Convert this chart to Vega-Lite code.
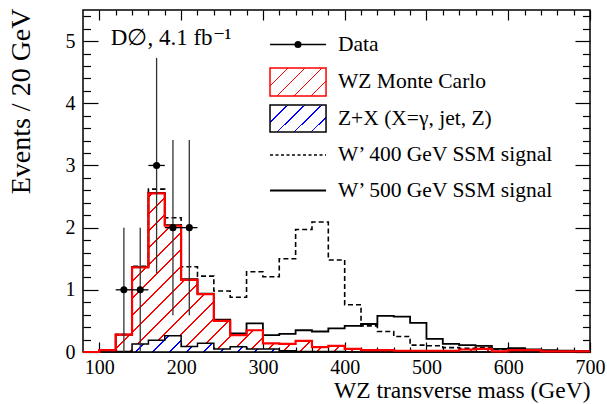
{
  "$schema": "https://vega.github.io/schema/vega-lite/v6.json",
  "width": 507,
  "height": 342,
  "autosize": "none",
  "padding": {"left": 83, "top": 10, "right": 17, "bottom": 52},
  "background": "white",
  "config": {
    "view": {"stroke": "black", "strokeWidth": 1.5},
    "axis": {"grid": false, "domain": false, "tickColor": "black", "tickWidth": 1.2, "labelFont": "Liberation Serif", "labelFontSize": 20, "labelColor": "black", "titleFont": "Liberation Serif", "titleFontSize": 24, "titleFontWeight": "normal", "titleColor": "black", "zindex": 1}
  },
  "resolve": {"axis": {"x": "independent", "y": "independent"}},
  "datasets": {
    "hist": [
      {"m": 80, "wz": 0, "zx": 0, "w4": 0, "w5": 0},
      {"m": 100, "wz": 0.03, "zx": 0, "w4": 0.03, "w5": 0.03},
      {"m": 120, "wz": 0.28, "zx": 0.01, "w4": 0.28, "w5": 0.28},
      {"m": 140, "wz": 1.36, "zx": 0.13, "w4": 1.38, "w5": 1.37},
      {"m": 160, "wz": 2.55, "zx": 0.19, "w4": 2.62, "w5": 2.56},
      {"m": 180, "wz": 2.03, "zx": 0.26, "w4": 2.16, "w5": 2.04},
      {"m": 200, "wz": 1.16, "zx": 0.09, "w4": 1.37, "w5": 1.17},
      {"m": 220, "wz": 0.93, "zx": 0.14, "w4": 1.22, "w5": 0.94},
      {"m": 240, "wz": 0.5, "zx": 0.05, "w4": 0.98, "w5": 0.52},
      {"m": 260, "wz": 0.27, "zx": 0.085, "w4": 0.88, "w5": 0.3},
      {"m": 280, "wz": 0.35, "zx": 0.05, "w4": 1.29, "w5": 0.46},
      {"m": 300, "wz": 0.14, "zx": 0.05, "w4": 1.21, "w5": 0.27},
      {"m": 320, "wz": 0.13, "zx": 0.02, "w4": 1.5, "w5": 0.29},
      {"m": 340, "wz": 0.18, "zx": 0.01, "w4": 1.97, "w5": 0.35},
      {"m": 360, "wz": 0.08, "zx": 0.01, "w4": 2.09, "w5": 0.33},
      {"m": 380, "wz": 0.1, "zx": 0.01, "w4": 1.48, "w5": 0.38},
      {"m": 400, "wz": 0.05, "zx": 0, "w4": 0.76, "w5": 0.42},
      {"m": 420, "wz": 0.03, "zx": 0, "w4": 0.42, "w5": 0.45},
      {"m": 440, "wz": 0.03, "zx": 0, "w4": 0.33, "w5": 0.58},
      {"m": 460, "wz": 0.02, "zx": 0, "w4": 0.25, "w5": 0.57},
      {"m": 480, "wz": 0.02, "zx": 0, "w4": 0.11, "w5": 0.47},
      {"m": 500, "wz": 0.02, "zx": 0, "w4": 0.1, "w5": 0.21},
      {"m": 520, "wz": 0.02, "zx": 0, "w4": 0.07, "w5": 0.13},
      {"m": 540, "wz": 0.04, "zx": 0, "w4": 0.06, "w5": 0.11},
      {"m": 560, "wz": 0.05, "zx": 0, "w4": 0.07, "w5": 0.1},
      {"m": 580, "wz": 0.01, "zx": 0, "w4": 0.04, "w5": 0.05},
      {"m": 600, "wz": 0.03, "zx": 0, "w4": 0.03, "w5": 0.06},
      {"m": 620, "wz": 0.03, "zx": 0, "w4": 0.03, "w5": 0.04},
      {"m": 640, "wz": 0.01, "zx": 0, "w4": 0.01, "w5": 0.03},
      {"m": 660, "wz": 0.01, "zx": 0, "w4": 0.01, "w5": 0.02},
      {"m": 680, "wz": 0.01, "zx": 0, "w4": 0.01, "w5": 0.015},
      {"m": 700, "wz": 0.01, "zx": 0, "w4": 0.01, "w5": 0.015}
    ],
    "pts": [
      {"m": 130, "n": 1, "lo": 0, "hi": 2, "m0": 120, "m1": 140},
      {"m": 150, "n": 1, "lo": 0, "hi": 2, "m0": 140, "m1": 160},
      {"m": 170, "n": 3, "lo": 1.27, "hi": 4.73, "m0": 160, "m1": 180},
      {"m": 190, "n": 2, "lo": 0.59, "hi": 3.41, "m0": 180, "m1": 200},
      {"m": 210, "n": 2, "lo": 0.59, "hi": 3.41, "m0": 200, "m1": 220}
    ],
    "leg": [
      {"s": "Data"},
      {"s": "WZ Monte Carlo"},
      {"s": "Z+X (X=γ, jet, Z)"},
      {"s": "W’ 400 GeV SSM signal"},
      {"s": "W’ 500 GeV SSM signal"}
    ],
    "note": [{"t": "D∅, 4.1 fb⁻¹"}]
  },
  "layer": [
    {
      "data": {"name": "hist"},
      "mark": {"type": "area", "interpolate": "step-after", "stroke": null,
        "fill": {"gradient": "linear", "x1": 0, "y1": 0, "x2": 1.2218, "y2": 0.3821, "stops": [
          {"offset": 0, "color": "red"}, {"offset": 0.0025, "color": "red"}, {"offset": 0.0025, "color": "transparent"}, {"offset": 0.025, "color": "transparent"},
          {"offset": 0.025, "color": "red"}, {"offset": 0.0275, "color": "red"}, {"offset": 0.0275, "color": "transparent"}, {"offset": 0.05, "color": "transparent"},
          {"offset": 0.05, "color": "red"}, {"offset": 0.0525, "color": "red"}, {"offset": 0.0525, "color": "transparent"}, {"offset": 0.075, "color": "transparent"},
          {"offset": 0.075, "color": "red"}, {"offset": 0.0775, "color": "red"}, {"offset": 0.0775, "color": "transparent"}, {"offset": 0.1, "color": "transparent"},
          {"offset": 0.1, "color": "red"}, {"offset": 0.1025, "color": "red"}, {"offset": 0.1025, "color": "transparent"}, {"offset": 0.125, "color": "transparent"},
          {"offset": 0.125, "color": "red"}, {"offset": 0.1275, "color": "red"}, {"offset": 0.1275, "color": "transparent"}, {"offset": 0.15, "color": "transparent"},
          {"offset": 0.15, "color": "red"}, {"offset": 0.1525, "color": "red"}, {"offset": 0.1525, "color": "transparent"}, {"offset": 0.175, "color": "transparent"},
          {"offset": 0.175, "color": "red"}, {"offset": 0.1775, "color": "red"}, {"offset": 0.1775, "color": "transparent"}, {"offset": 0.2, "color": "transparent"},
          {"offset": 0.2, "color": "red"}, {"offset": 0.2025, "color": "red"}, {"offset": 0.2025, "color": "transparent"}, {"offset": 0.225, "color": "transparent"},
          {"offset": 0.225, "color": "red"}, {"offset": 0.2275, "color": "red"}, {"offset": 0.2275, "color": "transparent"}, {"offset": 0.25, "color": "transparent"},
          {"offset": 0.25, "color": "red"}, {"offset": 0.2525, "color": "red"}, {"offset": 0.2525, "color": "transparent"}, {"offset": 0.275, "color": "transparent"},
          {"offset": 0.275, "color": "red"}, {"offset": 0.2775, "color": "red"}, {"offset": 0.2775, "color": "transparent"}, {"offset": 0.3, "color": "transparent"},
          {"offset": 0.3, "color": "red"}, {"offset": 0.3025, "color": "red"}, {"offset": 0.3025, "color": "transparent"}, {"offset": 0.325, "color": "transparent"},
          {"offset": 0.325, "color": "red"}, {"offset": 0.3275, "color": "red"}, {"offset": 0.3275, "color": "transparent"}, {"offset": 0.35, "color": "transparent"},
          {"offset": 0.35, "color": "red"}, {"offset": 0.3525, "color": "red"}, {"offset": 0.3525, "color": "transparent"}, {"offset": 0.375, "color": "transparent"},
          {"offset": 0.375, "color": "red"}, {"offset": 0.3775, "color": "red"}, {"offset": 0.3775, "color": "transparent"}, {"offset": 0.4, "color": "transparent"},
          {"offset": 0.4, "color": "red"}, {"offset": 0.4025, "color": "red"}, {"offset": 0.4025, "color": "transparent"}, {"offset": 0.425, "color": "transparent"},
          {"offset": 0.425, "color": "red"}, {"offset": 0.4275, "color": "red"}, {"offset": 0.4275, "color": "transparent"}, {"offset": 0.45, "color": "transparent"},
          {"offset": 0.45, "color": "red"}, {"offset": 0.4525, "color": "red"}, {"offset": 0.4525, "color": "transparent"}, {"offset": 0.475, "color": "transparent"},
          {"offset": 0.475, "color": "red"}, {"offset": 0.4775, "color": "red"}, {"offset": 0.4775, "color": "transparent"}, {"offset": 0.5, "color": "transparent"},
          {"offset": 0.5, "color": "red"}, {"offset": 0.5025, "color": "red"}, {"offset": 0.5025, "color": "transparent"}, {"offset": 0.525, "color": "transparent"},
          {"offset": 0.525, "color": "red"}, {"offset": 0.5275, "color": "red"}, {"offset": 0.5275, "color": "transparent"}, {"offset": 0.55, "color": "transparent"},
          {"offset": 0.55, "color": "red"}, {"offset": 0.5525, "color": "red"}, {"offset": 0.5525, "color": "transparent"}, {"offset": 0.575, "color": "transparent"},
          {"offset": 0.575, "color": "red"}, {"offset": 0.5775, "color": "red"}, {"offset": 0.5775, "color": "transparent"}, {"offset": 0.6, "color": "transparent"},
          {"offset": 0.6, "color": "red"}, {"offset": 0.6025, "color": "red"}, {"offset": 0.6025, "color": "transparent"}, {"offset": 0.625, "color": "transparent"},
          {"offset": 0.625, "color": "red"}, {"offset": 0.6275, "color": "red"}, {"offset": 0.6275, "color": "transparent"}, {"offset": 0.65, "color": "transparent"},
          {"offset": 0.65, "color": "red"}, {"offset": 0.6525, "color": "red"}, {"offset": 0.6525, "color": "transparent"}, {"offset": 0.675, "color": "transparent"},
          {"offset": 0.675, "color": "red"}, {"offset": 0.6775, "color": "red"}, {"offset": 0.6775, "color": "transparent"}, {"offset": 0.7, "color": "transparent"},
          {"offset": 0.7, "color": "red"}, {"offset": 0.7025, "color": "red"}, {"offset": 0.7025, "color": "transparent"}, {"offset": 0.725, "color": "transparent"},
          {"offset": 0.725, "color": "red"}, {"offset": 0.7275, "color": "red"}, {"offset": 0.7275, "color": "transparent"}, {"offset": 0.75, "color": "transparent"},
          {"offset": 0.75, "color": "red"}, {"offset": 0.7525, "color": "red"}, {"offset": 0.7525, "color": "transparent"}, {"offset": 0.775, "color": "transparent"},
          {"offset": 0.775, "color": "red"}, {"offset": 0.7775, "color": "red"}, {"offset": 0.7775, "color": "transparent"}, {"offset": 0.8, "color": "transparent"},
          {"offset": 0.8, "color": "red"}, {"offset": 0.8025, "color": "red"}, {"offset": 0.8025, "color": "transparent"}, {"offset": 0.825, "color": "transparent"},
          {"offset": 0.825, "color": "red"}, {"offset": 0.8275, "color": "red"}, {"offset": 0.8275, "color": "transparent"}, {"offset": 0.85, "color": "transparent"},
          {"offset": 0.85, "color": "red"}, {"offset": 0.8525, "color": "red"}, {"offset": 0.8525, "color": "transparent"}, {"offset": 0.875, "color": "transparent"},
          {"offset": 0.875, "color": "red"}, {"offset": 0.8775, "color": "red"}, {"offset": 0.8775, "color": "transparent"}, {"offset": 0.9, "color": "transparent"},
          {"offset": 0.9, "color": "red"}, {"offset": 0.9025, "color": "red"}, {"offset": 0.9025, "color": "transparent"}, {"offset": 0.925, "color": "transparent"},
          {"offset": 0.925, "color": "red"}, {"offset": 0.9275, "color": "red"}, {"offset": 0.9275, "color": "transparent"}, {"offset": 0.95, "color": "transparent"},
          {"offset": 0.95, "color": "red"}, {"offset": 0.9525, "color": "red"}, {"offset": 0.9525, "color": "transparent"}, {"offset": 0.975, "color": "transparent"},
          {"offset": 0.975, "color": "red"}, {"offset": 0.9775, "color": "red"}, {"offset": 0.9775, "color": "transparent"}, {"offset": 1, "color": "transparent"}
        ]}},
      "encoding": {
        "x": {"field": "m", "type": "quantitative", "scale": {"domain": [80, 700], "nice": false, "zero": false},
          "axis": {"orient": "bottom", "values": [100, 200, 300, 400, 500, 600, 700], "format": "d", "ticks": false, "labelPadding": 5, "labelFlush": false, "labelOverlap": false,
            "title": "WZ transverse mass (GeV)", "titleFontSize": 23.5, "titleAnchor": "end", "titleAlign": "right", "titleBaseline": "alphabetic", "titleX": 507, "titleY": 45}},
        "y": {"field": "wz", "type": "quantitative", "scale": {"domain": [0, 5.5], "nice": false},
          "axis": {"orient": "left", "values": [0, 1, 2, 3, 4, 5], "format": "d", "ticks": false, "labelPadding": 8, "labelFlush": false, "labelOverlap": false,
            "title": "Events / 20 GeV", "titleFontSize": 28, "titleAnchor": "end", "titleAlign": "right", "titleAngle": -90, "titleBaseline": "alphabetic", "titleX": -54, "titleY": -2}}
      }
    },
    {
      "data": {"name": "hist"},
      "mark": {"type": "area", "interpolate": "step-after", "stroke": "black", "strokeWidth": 1.5,
        "fill": {"gradient": "linear", "x1": 0, "y1": 0, "x2": 1.3399, "y2": 0.04273, "stops": [
          {"offset": 0, "color": "blue"}, {"offset": 0.0025, "color": "blue"}, {"offset": 0.0025, "color": "white"}, {"offset": 0.025, "color": "white"},
          {"offset": 0.025, "color": "blue"}, {"offset": 0.0275, "color": "blue"}, {"offset": 0.0275, "color": "white"}, {"offset": 0.05, "color": "white"},
          {"offset": 0.05, "color": "blue"}, {"offset": 0.0525, "color": "blue"}, {"offset": 0.0525, "color": "white"}, {"offset": 0.075, "color": "white"},
          {"offset": 0.075, "color": "blue"}, {"offset": 0.0775, "color": "blue"}, {"offset": 0.0775, "color": "white"}, {"offset": 0.1, "color": "white"},
          {"offset": 0.1, "color": "blue"}, {"offset": 0.1025, "color": "blue"}, {"offset": 0.1025, "color": "white"}, {"offset": 0.125, "color": "white"},
          {"offset": 0.125, "color": "blue"}, {"offset": 0.1275, "color": "blue"}, {"offset": 0.1275, "color": "white"}, {"offset": 0.15, "color": "white"},
          {"offset": 0.15, "color": "blue"}, {"offset": 0.1525, "color": "blue"}, {"offset": 0.1525, "color": "white"}, {"offset": 0.175, "color": "white"},
          {"offset": 0.175, "color": "blue"}, {"offset": 0.1775, "color": "blue"}, {"offset": 0.1775, "color": "white"}, {"offset": 0.2, "color": "white"},
          {"offset": 0.2, "color": "blue"}, {"offset": 0.2025, "color": "blue"}, {"offset": 0.2025, "color": "white"}, {"offset": 0.225, "color": "white"},
          {"offset": 0.225, "color": "blue"}, {"offset": 0.2275, "color": "blue"}, {"offset": 0.2275, "color": "white"}, {"offset": 0.25, "color": "white"},
          {"offset": 0.25, "color": "blue"}, {"offset": 0.2525, "color": "blue"}, {"offset": 0.2525, "color": "white"}, {"offset": 0.275, "color": "white"},
          {"offset": 0.275, "color": "blue"}, {"offset": 0.2775, "color": "blue"}, {"offset": 0.2775, "color": "white"}, {"offset": 0.3, "color": "white"},
          {"offset": 0.3, "color": "blue"}, {"offset": 0.3025, "color": "blue"}, {"offset": 0.3025, "color": "white"}, {"offset": 0.325, "color": "white"},
          {"offset": 0.325, "color": "blue"}, {"offset": 0.3275, "color": "blue"}, {"offset": 0.3275, "color": "white"}, {"offset": 0.35, "color": "white"},
          {"offset": 0.35, "color": "blue"}, {"offset": 0.3525, "color": "blue"}, {"offset": 0.3525, "color": "white"}, {"offset": 0.375, "color": "white"},
          {"offset": 0.375, "color": "blue"}, {"offset": 0.3775, "color": "blue"}, {"offset": 0.3775, "color": "white"}, {"offset": 0.4, "color": "white"},
          {"offset": 0.4, "color": "blue"}, {"offset": 0.4025, "color": "blue"}, {"offset": 0.4025, "color": "white"}, {"offset": 0.425, "color": "white"}
        ]}},
      "encoding": {
        "x": {"field": "m", "type": "quantitative", "scale": {"domain": [80, 700], "nice": false, "zero": false},
          "axis": {"orient": "bottom", "values": [100, 200, 300, 400, 500, 600, 700], "labels": false, "title": null, "tickSize": -10}},
        "y": {"field": "zx", "type": "quantitative", "scale": {"domain": [0, 5.5], "nice": false},
          "axis": {"orient": "left", "values": [0, 1, 2, 3, 4, 5], "labels": false, "title": null, "tickSize": -15}}
      }
    },
    {
      "data": {"name": "hist"},
      "mark": {"type": "line", "interpolate": "step-after", "color": "black", "strokeWidth": 1.6, "strokeDash": [5, 3]},
      "encoding": {
        "x": {"field": "m", "type": "quantitative", "scale": {"domain": [80, 700], "nice": false, "zero": false},
          "axis": {"orient": "bottom", "values": [120,140,160,180,220,240,260,280,320,340,360,380,420,440,460,480,520,540,560,580,620,640,660,680], "labels": false, "title": null, "tickSize": -5}},
        "y": {"field": "w4", "type": "quantitative", "scale": {"domain": [0, 5.5], "nice": false},
          "axis": {"orient": "left", "values": [0.2,0.4,0.6,0.8,1.2,1.4,1.6,1.8,2.2,2.4,2.6,2.8,3.2,3.4,3.6,3.8,4.2,4.4,4.6,4.8,5.2,5.4], "labels": false, "title": null, "tickSize": -7.5}}
      }
    },
    {
      "data": {"name": "hist"},
      "mark": {"type": "line", "interpolate": "step-after", "color": "black", "strokeWidth": 1.8},
      "encoding": {
        "x": {"field": "m", "type": "quantitative", "scale": {"domain": [80, 700], "nice": false, "zero": false},
          "axis": {"orient": "top", "values": [100, 200, 300, 400, 500, 600, 700], "labels": false, "title": null, "tickSize": -10}},
        "y": {"field": "w5", "type": "quantitative", "scale": {"domain": [0, 5.5], "nice": false},
          "axis": {"orient": "right", "values": [0, 1, 2, 3, 4, 5], "labels": false, "title": null, "tickSize": -15}}
      }
    },
    {
      "data": {"name": "hist"},
      "mark": {"type": "line", "interpolate": "step-after", "color": "red", "strokeWidth": 2.2},
      "encoding": {
        "x": {"field": "m", "type": "quantitative", "scale": {"domain": [80, 700], "nice": false, "zero": false},
          "axis": {"orient": "top", "values": [120,140,160,180,220,240,260,280,320,340,360,380,420,440,460,480,520,540,560,580,620,640,660,680], "labels": false, "title": null, "tickSize": -5}},
        "y": {"field": "wz", "type": "quantitative", "scale": {"domain": [0, 5.5], "nice": false},
          "axis": {"orient": "right", "values": [0.2,0.4,0.6,0.8,1.2,1.4,1.6,1.8,2.2,2.4,2.6,2.8,3.2,3.4,3.6,3.8,4.2,4.4,4.6,4.8,5.2,5.4], "labels": false, "title": null, "tickSize": -7.5}}
      }
    },
    {
      "data": {"name": "pts"},
      "mark": {"type": "rule", "color": "#333333", "strokeWidth": 1.3},
      "encoding": {
        "x": {"field": "m", "type": "quantitative", "scale": {"domain": [80, 700], "nice": false, "zero": false}, "axis": null},
        "y": {"field": "lo", "type": "quantitative", "scale": {"domain": [0, 5.5], "nice": false}, "axis": null},
        "y2": {"field": "hi"}
      }
    },
    {
      "data": {"name": "pts"},
      "mark": {"type": "rule", "color": "black", "strokeWidth": 1.3},
      "encoding": {
        "x": {"field": "m0", "type": "quantitative", "scale": {"domain": [80, 700], "nice": false, "zero": false}, "axis": null},
        "x2": {"field": "m1"},
        "y": {"field": "n", "type": "quantitative", "scale": {"domain": [0, 5.5], "nice": false}, "axis": null}
      }
    },
    {
      "data": {"name": "pts"},
      "mark": {"type": "point", "filled": true, "color": "black", "size": 50, "opacity": 1},
      "encoding": {
        "x": {"field": "m", "type": "quantitative", "scale": {"domain": [80, 700], "nice": false, "zero": false}, "axis": null},
        "y": {"field": "n", "type": "quantitative", "scale": {"domain": [0, 5.5], "nice": false}, "axis": null}
      }
    },
    {
      "data": {"name": "note"},
      "mark": {"type": "text", "align": "left", "baseline": "alphabetic", "font": "Liberation Serif", "fontSize": 23, "color": "black"},
      "encoding": {
        "text": {"field": "t"},
        "x": {"datum": 114, "type": "quantitative", "scale": {"domain": [80, 700], "nice": false, "zero": false}, "axis": null},
        "y": {"datum": 4.94, "type": "quantitative", "scale": {"domain": [0, 5.5], "nice": false}, "axis": null}
      }
    },
    {
      "data": {"name": "leg"},
      "transform": [{"filter": "datum.s === 'Data'"}],
      "mark": {"type": "rule", "color": "black", "strokeWidth": 1.3},
      "encoding": {
        "x": {"datum": 308.7, "type": "quantitative", "scale": {"domain": [80, 700], "nice": false, "zero": false}, "axis": null},
        "x2": {"datum": 377.2},
        "y": {"datum": 4.945, "type": "quantitative", "scale": {"domain": [0, 5.5], "nice": false}, "axis": null}
      }
    },
    {
      "data": {"name": "leg"},
      "transform": [{"filter": "datum.s === 'Data'"}],
      "mark": {"type": "point", "filled": true, "color": "black", "size": 50, "opacity": 1},
      "encoding": {
        "x": {"datum": 342.9, "type": "quantitative", "scale": {"domain": [80, 700], "nice": false, "zero": false}, "axis": null},
        "y": {"datum": 4.945, "type": "quantitative", "scale": {"domain": [0, 5.5], "nice": false}, "axis": null}
      }
    },
    {
      "data": {"name": "leg"},
      "transform": [{"filter": "datum.s === 'WZ Monte Carlo'"}],
      "mark": {"type": "rect", "stroke": "red", "strokeWidth": 1.5,
        "fill": {"gradient": "linear", "x1": 0, "y1": 0, "x2": 9.714, "y2": 4.857, "stops": [
          {"offset": 0, "color": "red"}, {"offset": 0.0025, "color": "red"}, {"offset": 0.0025, "color": "transparent"}, {"offset": 0.025, "color": "transparent"},
          {"offset": 0.025, "color": "red"}, {"offset": 0.0275, "color": "red"}, {"offset": 0.0275, "color": "transparent"}, {"offset": 0.05, "color": "transparent"},
          {"offset": 0.05, "color": "red"}, {"offset": 0.0525, "color": "red"}, {"offset": 0.0525, "color": "transparent"}, {"offset": 0.075, "color": "transparent"},
          {"offset": 0.075, "color": "red"}, {"offset": 0.0775, "color": "red"}, {"offset": 0.0775, "color": "transparent"}, {"offset": 0.1, "color": "transparent"},
          {"offset": 0.1, "color": "red"}, {"offset": 0.1025, "color": "red"}, {"offset": 0.1025, "color": "transparent"}, {"offset": 0.125, "color": "transparent"},
          {"offset": 0.125, "color": "red"}, {"offset": 0.1275, "color": "red"}, {"offset": 0.1275, "color": "transparent"}, {"offset": 0.15, "color": "transparent"}
        ]}},
      "encoding": {
        "x": {"datum": 308.7, "type": "quantitative", "scale": {"domain": [80, 700], "nice": false, "zero": false}, "axis": null},
        "x2": {"datum": 377.2},
        "y": {"datum": 4.567, "type": "quantitative", "scale": {"domain": [0, 5.5], "nice": false}, "axis": null},
        "y2": {"datum": 4.117}
      }
    },
    {
      "data": {"name": "leg"},
      "transform": [{"filter": "indexof(datum.s, 'Z+X') === 0"}],
      "mark": {"type": "rect", "stroke": "black", "strokeWidth": 1.5,
        "fill": {"gradient": "linear", "x1": 0, "y1": 0, "x2": 9.714, "y2": 4.857, "stops": [
          {"offset": 0, "color": "blue"}, {"offset": 0.0025, "color": "blue"}, {"offset": 0.0025, "color": "white"}, {"offset": 0.025, "color": "white"},
          {"offset": 0.025, "color": "blue"}, {"offset": 0.0275, "color": "blue"}, {"offset": 0.0275, "color": "white"}, {"offset": 0.05, "color": "white"},
          {"offset": 0.05, "color": "blue"}, {"offset": 0.0525, "color": "blue"}, {"offset": 0.0525, "color": "white"}, {"offset": 0.075, "color": "white"},
          {"offset": 0.075, "color": "blue"}, {"offset": 0.0775, "color": "blue"}, {"offset": 0.0775, "color": "white"}, {"offset": 0.1, "color": "white"},
          {"offset": 0.1, "color": "blue"}, {"offset": 0.1025, "color": "blue"}, {"offset": 0.1025, "color": "white"}, {"offset": 0.125, "color": "white"},
          {"offset": 0.125, "color": "blue"}, {"offset": 0.1275, "color": "blue"}, {"offset": 0.1275, "color": "white"}, {"offset": 0.15, "color": "white"}
        ]}},
      "encoding": {
        "x": {"datum": 308.7, "type": "quantitative", "scale": {"domain": [80, 700], "nice": false, "zero": false}, "axis": null},
        "x2": {"datum": 377.2},
        "y": {"datum": 3.972, "type": "quantitative", "scale": {"domain": [0, 5.5], "nice": false}, "axis": null},
        "y2": {"datum": 3.538}
      }
    },
    {
      "data": {"name": "leg"},
      "transform": [{"filter": "indexof(datum.s, '400') >= 0"}],
      "mark": {"type": "rule", "color": "black", "strokeWidth": 1.3, "strokeDash": [3, 2.5]},
      "encoding": {
        "x": {"datum": 308.7, "type": "quantitative", "scale": {"domain": [80, 700], "nice": false, "zero": false}, "axis": null},
        "x2": {"datum": 377.2},
        "y": {"datum": 3.168, "type": "quantitative", "scale": {"domain": [0, 5.5], "nice": false}, "axis": null}
      }
    },
    {
      "data": {"name": "leg"},
      "transform": [{"filter": "indexof(datum.s, '500') >= 0"}],
      "mark": {"type": "rule", "color": "black", "strokeWidth": 1.8},
      "encoding": {
        "x": {"datum": 308.7, "type": "quantitative", "scale": {"domain": [80, 700], "nice": false, "zero": false}, "axis": null},
        "x2": {"datum": 377.2},
        "y": {"datum": 2.597, "type": "quantitative", "scale": {"domain": [0, 5.5], "nice": false}, "axis": null}
      }
    },
    {
      "data": {"name": "leg"},
      "transform": [{"filter": "datum.s === 'Data'"}],
      "mark": {"type": "text", "align": "left", "baseline": "middle", "font": "Liberation Serif", "fontSize": 21.5, "color": "black"},
      "encoding": {
        "text": {"field": "s"},
        "x": {"datum": 391.8, "type": "quantitative", "scale": {"domain": [80, 700], "nice": false, "zero": false}, "axis": null},
        "y": {"datum": 4.945, "type": "quantitative", "scale": {"domain": [0, 5.5], "nice": false}, "axis": null}
      }
    },
    {
      "data": {"name": "leg"},
      "transform": [{"filter": "datum.s === 'WZ Monte Carlo'"}],
      "mark": {"type": "text", "align": "left", "baseline": "middle", "font": "Liberation Serif", "fontSize": 21.5, "color": "black"},
      "encoding": {
        "text": {"field": "s"},
        "x": {"datum": 391.8, "type": "quantitative", "scale": {"domain": [80, 700], "nice": false, "zero": false}, "axis": null},
        "y": {"datum": 4.342, "type": "quantitative", "scale": {"domain": [0, 5.5], "nice": false}, "axis": null}
      }
    },
    {
      "data": {"name": "leg"},
      "transform": [{"filter": "indexof(datum.s, 'Z+X') === 0"}],
      "mark": {"type": "text", "align": "left", "baseline": "middle", "font": "Liberation Serif", "fontSize": 21.5, "color": "black"},
      "encoding": {
        "text": {"field": "s"},
        "x": {"datum": 391.8, "type": "quantitative", "scale": {"domain": [80, 700], "nice": false, "zero": false}, "axis": null},
        "y": {"datum": 3.755, "type": "quantitative", "scale": {"domain": [0, 5.5], "nice": false}, "axis": null}
      }
    },
    {
      "data": {"name": "leg"},
      "transform": [{"filter": "indexof(datum.s, '400') >= 0"}],
      "mark": {"type": "text", "align": "left", "baseline": "middle", "font": "Liberation Serif", "fontSize": 21.5, "color": "black"},
      "encoding": {
        "text": {"field": "s"},
        "x": {"datum": 391.8, "type": "quantitative", "scale": {"domain": [80, 700], "nice": false, "zero": false}, "axis": null},
        "y": {"datum": 3.168, "type": "quantitative", "scale": {"domain": [0, 5.5], "nice": false}, "axis": null}
      }
    },
    {
      "data": {"name": "leg"},
      "transform": [{"filter": "indexof(datum.s, '500') >= 0"}],
      "mark": {"type": "text", "align": "left", "baseline": "middle", "font": "Liberation Serif", "fontSize": 21.5, "color": "black"},
      "encoding": {
        "text": {"field": "s"},
        "x": {"datum": 391.8, "type": "quantitative", "scale": {"domain": [80, 700], "nice": false, "zero": false}, "axis": null},
        "y": {"datum": 2.597, "type": "quantitative", "scale": {"domain": [0, 5.5], "nice": false}, "axis": null}
      }
    }
  ]
}
